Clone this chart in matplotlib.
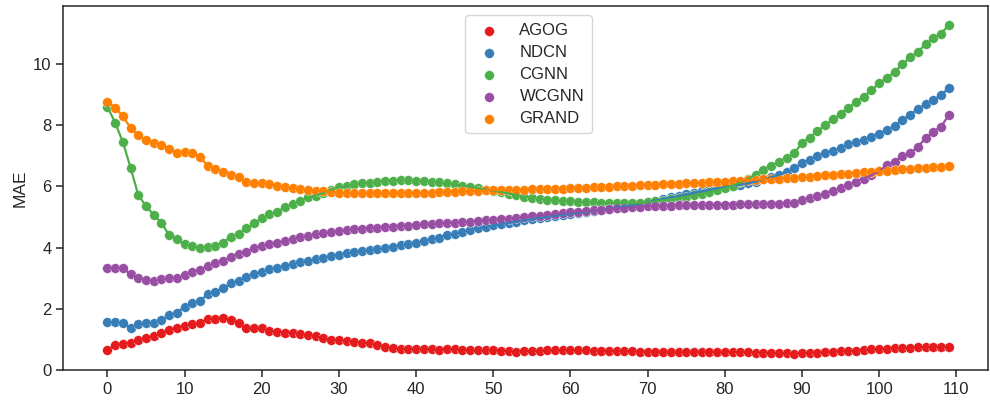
import matplotlib
matplotlib.use('Agg')
import matplotlib.pyplot as plt
import seaborn as sns
import numpy as np
import pandas as pd

epochs = list(range(110))

agog = [0.65, 0.82, 0.85, 0.89, 0.98, 1.03, 1.11, 1.20, 1.31, 1.38,
        1.45, 1.49, 1.53, 1.67, 1.67, 1.69, 1.63, 1.55, 1.36, 1.36,
        1.36, 1.27, 1.25, 1.22, 1.22, 1.18, 1.14, 1.11, 1.03, 0.98,
        0.98, 0.96, 0.93, 0.89, 0.87, 0.82, 0.76, 0.71, 0.69, 0.68,
        0.70, 0.68, 0.67, 0.66, 0.67, 0.68, 0.66, 0.65, 0.64, 0.65,
        0.64, 0.63, 0.61, 0.60, 0.61, 0.62, 0.63, 0.64, 0.64, 0.65,
        0.65, 0.64, 0.64, 0.63, 0.63, 0.62, 0.62, 0.61, 0.61, 0.60,
        0.60, 0.59, 0.59, 0.58, 0.58, 0.58, 0.59, 0.59, 0.59, 0.58,
        0.58, 0.59, 0.59, 0.58, 0.57, 0.57, 0.56, 0.55, 0.54, 0.53,
        0.55, 0.56, 0.57, 0.58, 0.60, 0.61, 0.62, 0.63, 0.65, 0.67,
        0.68, 0.70, 0.71, 0.72, 0.73, 0.74, 0.75, 0.75, 0.76, 0.75]

ndcn = [1.56, 1.57, 1.53, 1.38, 1.49, 1.53, 1.55, 1.63, 1.80, 1.87,
        2.07, 2.18, 2.25, 2.48, 2.56, 2.67, 2.83, 2.91, 3.05, 3.14,
        3.21, 3.29, 3.34, 3.41, 3.45, 3.52, 3.56, 3.62, 3.67, 3.73,
        3.76, 3.81, 3.85, 3.89, 3.92, 3.95, 3.98, 4.03, 4.07, 4.11,
        4.15, 4.21, 4.27, 4.33, 4.40, 4.46, 4.52, 4.58, 4.63, 4.68,
        4.73, 4.77, 4.81, 4.85, 4.89, 4.93, 4.97, 5.00, 5.04, 5.07,
        5.11, 5.14, 5.17, 5.20, 5.24, 5.27, 5.31, 5.35, 5.39, 5.44,
        5.49, 5.54, 5.59, 5.64, 5.69, 5.74, 5.79, 5.84, 5.89, 5.94,
        5.98, 6.02, 6.06, 6.10, 6.16, 6.23, 6.30, 6.38, 6.47, 6.59,
        6.78, 6.88, 7.00, 7.10, 7.17, 7.26, 7.38, 7.46, 7.53, 7.62,
        7.73, 7.84, 7.97, 8.17, 8.35, 8.53, 8.69, 8.82, 8.99, 9.21]

cgnn = [8.61, 8.09, 7.46, 6.62, 5.72, 5.36, 5.07, 4.81, 4.41, 4.27,
        4.12, 4.05, 3.98, 4.03, 4.06, 4.16, 4.36, 4.43, 4.63, 4.79,
        4.96, 5.09, 5.17, 5.32, 5.42, 5.53, 5.64, 5.70, 5.79, 5.90,
        5.97, 6.01, 6.07, 6.10, 6.12, 6.15, 6.18, 6.19, 6.20, 6.20,
        6.19, 6.18, 6.16, 6.13, 6.10, 6.07, 6.03, 5.99, 5.95, 5.90,
        5.86, 5.82, 5.77, 5.72, 5.67, 5.63, 5.60, 5.57, 5.55, 5.53,
        5.52, 5.50, 5.49, 5.48, 5.47, 5.46, 5.45, 5.45, 5.45, 5.46,
        5.48, 5.51, 5.54, 5.58, 5.62, 5.66, 5.71, 5.76, 5.81, 5.87,
        5.94, 6.03, 6.13, 6.24, 6.39, 6.55, 6.67, 6.81, 6.94, 7.08,
        7.43, 7.60, 7.81, 8.01, 8.19, 8.37, 8.57, 8.76, 8.94, 9.15,
        9.37, 9.56, 9.75, 9.99, 10.22, 10.40, 10.65, 10.84, 11.00, 11.27]

wcgnn = [3.34, 3.33, 3.33, 3.13, 3.00, 2.94, 2.91, 2.96, 3.00, 3.00,
         3.10, 3.21, 3.27, 3.40, 3.49, 3.57, 3.70, 3.79, 3.87, 3.98,
         4.05, 4.11, 4.16, 4.23, 4.28, 4.34, 4.38, 4.43, 4.47, 4.50,
         4.54, 4.58, 4.60, 4.62, 4.64, 4.65, 4.67, 4.69, 4.71, 4.72,
         4.74, 4.76, 4.77, 4.79, 4.80, 4.82, 4.84, 4.85, 4.87, 4.89,
         4.91, 4.93, 4.95, 4.98, 5.00, 5.03, 5.05, 5.08, 5.10, 5.13,
         5.16, 5.18, 5.20, 5.22, 5.24, 5.26, 5.28, 5.30, 5.32, 5.34,
         5.35, 5.36, 5.37, 5.37, 5.38, 5.38, 5.39, 5.39, 5.40, 5.40,
         5.41, 5.41, 5.42, 5.42, 5.43, 5.43, 5.44, 5.44, 5.45, 5.47,
         5.56, 5.61, 5.69, 5.77, 5.86, 5.94, 6.05, 6.15, 6.26, 6.37,
         6.50, 6.70, 6.81, 6.99, 7.08, 7.30, 7.57, 7.79, 7.95, 8.33]

grand = [8.77, 8.58, 8.30, 7.92, 7.68, 7.52, 7.43, 7.37, 7.24, 7.11,
         7.13, 7.08, 6.97, 6.67, 6.57, 6.48, 6.39, 6.32, 6.15, 6.12,
         6.10, 6.07, 6.02, 5.97, 5.94, 5.93, 5.87, 5.86, 5.85, 5.82,
         5.80, 5.79, 5.78, 5.78, 5.78, 5.78, 5.78, 5.78, 5.79, 5.79,
         5.79, 5.80, 5.80, 5.81, 5.82, 5.83, 5.84, 5.85, 5.86, 5.87,
         5.88, 5.88, 5.89, 5.89, 5.90, 5.91, 5.91, 5.92, 5.93, 5.93,
         5.94, 5.95, 5.96, 5.97, 5.98, 5.99, 6.00, 6.01, 6.03, 6.04,
         6.05, 6.06, 6.07, 6.08, 6.09, 6.10, 6.11, 6.12, 6.13, 6.14,
         6.16, 6.18, 6.19, 6.21, 6.22, 6.23, 6.25, 6.26, 6.27, 6.28,
         6.30, 6.32, 6.34, 6.36, 6.38, 6.40, 6.42, 6.44, 6.46, 6.48,
         6.50, 6.52, 6.54, 6.56, 6.58, 6.60, 6.61, 6.63, 6.64, 6.66]

models = ['AGOG', 'NDCN', 'CGNN', 'WCGNN', 'GRAND']
series = [agog, ndcn, cgnn, wcgnn, grand]
colors = sns.color_palette('Set1', 5)

sns.set_style('ticks')
plt.rcParams['font.family'] = ['Liberation Sans', 'DejaVu Sans']

fig = plt.figure(figsize=(9.9, 4.03), dpi=100)
ax = fig.add_axes([0.064, 0.082, 0.934, 0.903])

# markers first, lines on top (as in the original)
for name, vals, c in zip(models, series, colors):
    ax.scatter(epochs, vals, s=50, color=c, edgecolor='white', linewidth=0.3, label=name, zorder=2)
for vals, c in zip(series, colors):
    ax.plot(epochs, vals, color=c, linewidth=1.6, zorder=3)

ax.set_xticks(range(0, 111, 10))
ax.set_yticks(range(0, 11, 2))
ax.set_xlim(-5.7, 114.1)
ax.set_ylim(0, 11.9)
ax.set_ylabel('MAE', fontsize=12.5)
ax.tick_params(labelsize=12, length=5, width=1.1, color='#262626', direction='out',
               bottom=True, left=True)
for sp in ax.spines.values():
    sp.set_color('#262626')
    sp.set_linewidth(1.1)

leg = ax.legend(loc='upper center', fontsize=12, frameon=True, bbox_to_anchor=(0.503, 0.997),
                borderpad=0.45, labelspacing=0.42)
leg.get_frame().set_edgecolor('#cccccc')

fig.savefig('out.png', dpi=100)
